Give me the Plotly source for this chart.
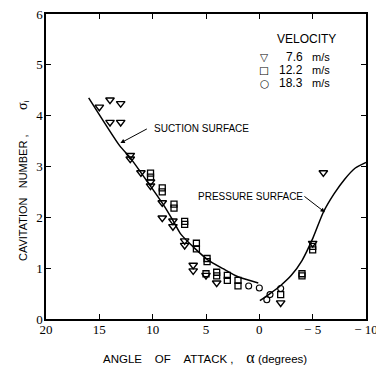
import plotly.graph_objects as go

# ---- data ----
tri_x = [15, 14, 13, 14, 13, 12.1, 12.1, 11.1, 10.2, 10.2, 9.1, 9.1, 8.1, 8.1, 7.0, 7.0, 6.2, 6.2, 5.0, 4.0, -2.0, -5.0, -6.0]
tri_y = [4.17, 4.31, 4.24, 3.87, 3.87, 3.22, 3.15, 2.88, 2.70, 2.62, 2.29, 1.99, 1.93, 1.82, 1.54, 1.45, 1.06, 0.95, 0.86, 0.71, 0.32, 1.49, 2.88]

sq_x = [10.2, 10.2, 9.1, 9.1, 8.0, 8.0, 7.0, 7.0, 5.9, 5.9, 4.9, 4.9, 5.0, 4.0, 4.0, 3.0, 3.0, 2.0, 2.0, -2.0, -4.0, -4.0, -5.0, -5.0]
sq_y = [2.87, 2.79, 2.58, 2.50, 2.26, 2.18, 1.92, 1.86, 1.49, 1.38, 1.19, 1.13, 0.89, 0.92, 0.85, 0.86, 0.76, 0.76, 0.65, 0.48, 0.89, 0.85, 1.43, 1.36]

circ_x = [1.0, 0.0, -0.7, -1.0, -2.0]
circ_y = [0.65, 0.61, 0.38, 0.48, 0.60]

suction_x = [16.0, 13.1, 12.1, 11.2, 9.0, 8.05, 7.4, 6.0, 4.8, 3.4, 2.0, 0.1]
suction_y = [4.35, 3.41, 3.17, 2.91, 2.25, 1.92, 1.68, 1.38, 1.16, 0.99, 0.83, 0.71]

pressure_x = [-0.05, -1, -2, -3, -4, -5, -6, -7, -8, -9, -10]
pressure_y = [0.36, 0.50, 0.66, 0.86, 1.15, 1.58, 2.10, 2.46, 2.75, 2.97, 3.08]

xtick_vals = [20, 15, 10, 5, 0, -5, -10]
xtick_text = ["20", "15", "10", "5", "0", "\u2212 5", "\u2212 10"]
ytick_vals = [0, 1, 2, 3, 4, 5, 6]

legend_title = "VELOCITY"
legend_speeds = ["7.6", "12.2", "18.3"]
legend_glyphs = ["\u25BD", "\u25A1", "\u25CB"]

SANS = "Liberation Sans, Arial, sans-serif"
SERIF = "Liberation Serif, Times New Roman, serif"

fig = go.Figure()
fig.add_trace(go.Scatter(x=suction_x, y=suction_y, mode="lines",
                         line=dict(color="black", width=1.5, shape="spline", smoothing=0.6),
                         showlegend=False, hoverinfo="skip"))
fig.add_trace(go.Scatter(x=pressure_x, y=pressure_y, mode="lines",
                         line=dict(color="black", width=1.5, shape="spline", smoothing=0.6),
                         showlegend=False, hoverinfo="skip"))
fig.add_trace(go.Scatter(x=tri_x, y=tri_y, mode="markers",
                         marker=dict(symbol="triangle-down-open", size=7.5, color="black",
                                     line=dict(width=1.4, color="black")),
                         showlegend=False))
fig.add_trace(go.Scatter(x=sq_x, y=sq_y, mode="markers",
                         marker=dict(symbol="square-open", size=6, color="black",
                                     line=dict(width=1.3, color="black")),
                         showlegend=False))
fig.add_trace(go.Scatter(x=circ_x, y=circ_y, mode="markers",
                         marker=dict(symbol="circle-open", size=6, color="black",
                                     line=dict(width=1.1, color="black")),
                         showlegend=False))

axis_common = dict(showline=True, linecolor="black", linewidth=1.5, mirror="ticks",
                   ticks="inside", ticklen=5, tickwidth=1.2, tickcolor="black",
                   showgrid=False, zeroline=False, automargin=False,
                   ticklabeloverflow="allow",
                   tickfont=dict(family=SERIF, size=13, color="black"))

fig.update_xaxes(range=[20, -10], tickvals=xtick_vals, ticktext=xtick_text,
                 ticklabelstandoff=-2, **axis_common)
fig.update_yaxes(range=[0, 6], tickvals=ytick_vals, ticklabelstandoff=-1, **axis_common)

# the page body has an 8px margin, so the figure is shrunk by that amount
OFF = 8
W, H = 384 - OFF, 374 - OFF
# target plot area in window pixels: x 46..366, y 14..319
L, R, T, B = 46 - OFF, 384 - 366, 14 - OFF, 374 - 319
pw, ph = W - L - R, H - T - B

def px(xp):  # window px -> paper
    return (xp - OFF - L) / pw

def py(yp):
    return (OFF + T + ph - yp) / ph

ann = []
# axis titles
ann.append(dict(xref="paper", yref="paper", x=px(205), y=py(357), xanchor="center", yanchor="middle",
                showarrow=False,
                text="ANGLE&nbsp;&nbsp;&nbsp;&nbsp;OF&nbsp;&nbsp;&nbsp;&nbsp;ATTACK ,&nbsp;&nbsp;&nbsp;&nbsp;"
                     "<span style='font-family:Liberation Serif;font-size:16px'>\u03b1</span> (degrees)",
                font=dict(family=SANS, size=11.5, color="black")))
ann.append(dict(xref="paper", yref="paper", x=px(23), y=py(181), xanchor="center", yanchor="middle",
                showarrow=False, textangle=-90,
                text="CAVITATION&nbsp;&nbsp;&nbsp;NUMBER ,&nbsp;&nbsp;&nbsp;&nbsp;&nbsp;&nbsp;&nbsp;&nbsp;"
                     "<span style='font-family:Liberation Serif;font-size:14px'>\u03c3</span><sub>i</sub>",
                font=dict(family=SANS, size=11, color="black")))
# curve labels
ann.append(dict(xref="paper", yref="paper", x=px(152), y=py(128), xanchor="left", yanchor="middle",
                showarrow=False, text="SUCTION SURFACE",
                font=dict(family=SANS, size=10, color="black")))
ann.append(dict(xref="paper", yref="paper", x=px(196), y=py(196), xanchor="left", yanchor="middle",
                showarrow=False, text="PRESSURE SURFACE",
                font=dict(family=SANS, size=10, color="black")))
# arrows (empty text)
ann.append(dict(x=13.03, y=3.46, xref="x", yref="y", text="", showarrow=True,
                ax=28, ay=-15, arrowhead=2, arrowsize=0.9, arrowwidth=1, arrowcolor="black"))
ann.append(dict(x=-6.15, y=2.10, xref="x", yref="y", text="", showarrow=True,
                ax=-22, ay=-17, arrowhead=2, arrowsize=0.9, arrowwidth=1, arrowcolor="black"))
# legend block
ann.append(dict(xref="paper", yref="paper", x=px(306), y=py(39), xanchor="center", yanchor="middle",
                showarrow=False, text=legend_title, font=dict(family=SANS, size=12, color="black")))
for i, (g, s) in enumerate(zip(legend_glyphs, legend_speeds)):
    yy = 57 + 13 * i
    ann.append(dict(xref="paper", yref="paper", x=px(264), y=py(yy), xanchor="center", yanchor="middle",
                    showarrow=False, text=g, font=dict(family="DejaVu Sans", size=10.5, color="black")))
    ann.append(dict(xref="paper", yref="paper", x=px(305), y=py(yy), xanchor="right", yanchor="middle",
                    showarrow=False, text=s, font=dict(family=SANS, size=12, color="black")))
    ann.append(dict(xref="paper", yref="paper", x=px(310), y=py(yy), xanchor="left", yanchor="middle",
                    showarrow=False, text="m/s", font=dict(family=SANS, size=11, color="black")))

fig.update_layout(width=W, height=H, margin=dict(l=L, r=R, t=T, b=B, autoexpand=False),
                  paper_bgcolor="white", plot_bgcolor="white",
                  showlegend=False, annotations=ann)

fig.write_html("out.html")
